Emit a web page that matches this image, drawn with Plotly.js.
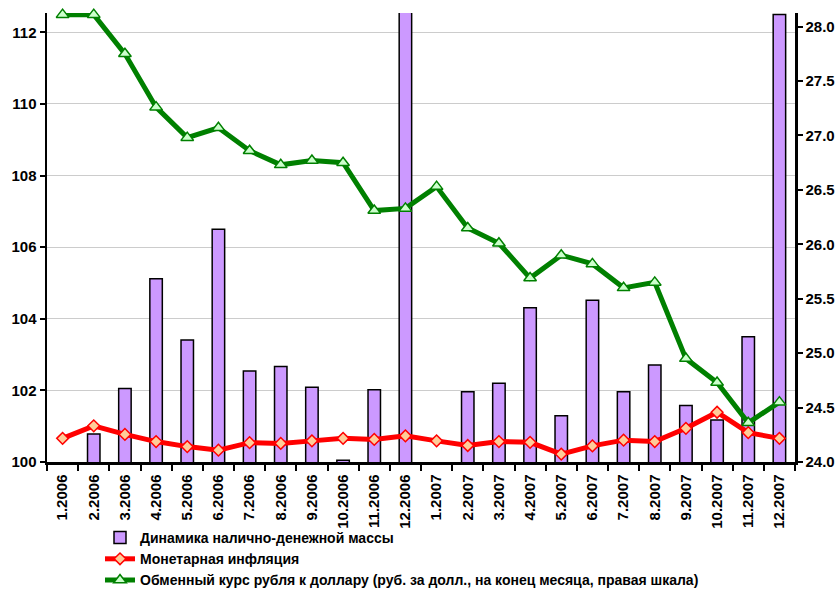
<!DOCTYPE html>
<html>
<head>
<meta charset="utf-8">
<script src="https://cdn.plot.ly/plotly-3.0.1.min.js"></script>
<style>html,body{margin:0;padding:0;background:#fff;}#chart{width:837px;height:589px;}</style>
</head>
<body>
<div id="chart"></div>
<script>
const months = ["1.2006","2.2006","3.2006","4.2006","5.2006","6.2006","7.2006","8.2006","9.2006","10.2006","11.2006","12.2006",
                "1.2007","2.2007","3.2007","4.2007","5.2007","6.2007","7.2007","8.2007","9.2007","10.2007","11.2007","12.2007"];
const cashDynamics = [98.5,100.78,102.05,105.12,103.41,106.5,102.54,102.67,102.09,100.05,102.02,114.0,
                      98.5,101.96,102.2,104.31,101.29,104.52,101.96,102.71,101.58,101.17,103.5,112.5];
const monetaryInflation = [100.66,101.01,100.77,100.57,100.43,100.33,100.54,100.52,100.59,100.66,100.63,100.73,
                           100.59,100.46,100.57,100.55,100.22,100.45,100.61,100.57,100.94,101.39,100.82,100.66];
const usdRate = [28.11,28.11,27.75,27.26,26.98,27.07,26.86,26.73,26.77,26.75,26.31,26.33,
                 26.53,26.15,26.01,25.69,25.90,25.82,25.60,25.65,24.95,24.73,24.36,24.55];
const names = ["Динамика налично-денежной массы","Монетарная инфляция",
               "Обменный курс рубля к доллару (руб. за долл., на конец месяца, правая шкала)"];

const fam = "Liberation Sans, Arial, sans-serif";
const tickFont = {family: fam, size: 15, color: "#000"};
const bold = s => "<b>" + s + "</b>";

const traces = [
  {type: "bar", x: months, y: cashDynamics, name: bold(names[0]),
   marker: {color: "#CC99FF", line: {color: "#000", width: 1.5}}},
  {type: "scatter", mode: "lines+markers", x: months, y: monetaryInflation, name: bold(names[1]),
   cliponaxis: false,
   line: {color: "#FF0000", width: 5},
   marker: {symbol: "diamond", size: 9, color: "#FFCC99", line: {color: "#FF0000", width: 1.5}}},
  {type: "scatter", mode: "lines+markers", x: months, y: usdRate, name: bold(names[2]), yaxis: "y2",
   cliponaxis: false,
   line: {color: "#008000", width: 5},
   marker: {symbol: "triangle-up", size: 11, color: "#CCFFCC", line: {color: "#008000", width: 1.5}}}
];

const layout = {
  width: 837, height: 589,
  margin: {l: 47, r: 42, t: 13, b: 127},
  paper_bgcolor: "#fff", plot_bgcolor: "#fff",
  font: {family: fam, size: 14, color: "#000"},
  bargap: 0.6,
  showlegend: true,
  legend: {xref: "paper", yref: "container", x: (100 - 47) / 748, y: 1 - 522 / 589,
           xanchor: "left", yanchor: "top",
           orientation: "v", font: {family: fam, size: 14, color: "#000"},
           tracegroupgap: 0, itemwidth: 30, bgcolor: "rgba(0,0,0,0)"},
  xaxis: {type: "category", range: [-0.5, months.length - 0.5], tickangle: -90,
          showline: true, linecolor: "#000", linewidth: 2.5,
          ticks: "outside", ticklen: 6, tickwidth: 2, tickcolor: "#000", tickson: "boundaries",
          ticklabelstandoff: 4,
          tickprefix: "<b>", ticksuffix: "</b>",
          showgrid: false, zeroline: false, tickfont: tickFont, automargin: false},
  yaxis: {range: [100, 112.54], dtick: 2, tick0: 100, showline: true, linecolor: "#000", linewidth: 2.5,
          ticks: "outside", ticklen: 5, tickwidth: 2, tickcolor: "#000",
          tickprefix: "<b>", ticksuffix: "</b>",
          showgrid: true, gridcolor: "#cccccc", gridwidth: 1, zeroline: false, tickfont: tickFont, automargin: false},
  yaxis2: {range: [24, 28.125], dtick: 0.5, tick0: 24, tickformat: ".1f", overlaying: "y", side: "right",
           showline: true, linecolor: "#000", linewidth: 2.5,
           ticks: "outside", ticklen: 5, tickwidth: 2, tickcolor: "#000",
           tickprefix: "<b>", ticksuffix: "</b>",
           showgrid: false, zeroline: false, tickfont: tickFont, automargin: false}
};

Plotly.newPlot("chart", traces, layout, {displayModeBar: false, staticPlot: true});
</script>
</body>
</html>
